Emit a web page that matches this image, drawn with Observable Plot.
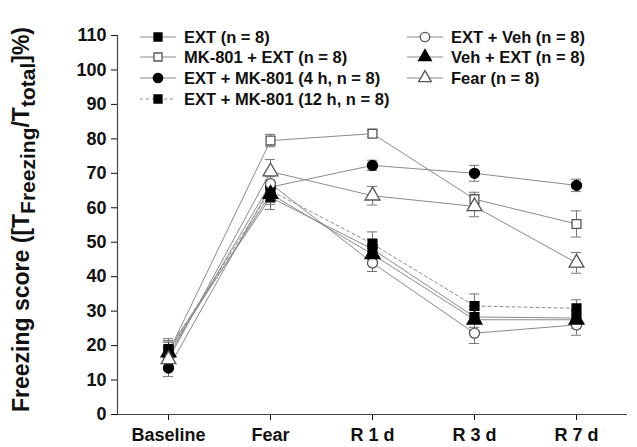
<!DOCTYPE html>
<html>
<head>
<meta charset="utf-8">
<script src="https://cdn.jsdelivr.net/npm/d3@7"></script>
<script src="https://cdn.jsdelivr.net/npm/@observablehq/plot@0.6"></script>
<style>
  html, body { margin: 0; padding: 0; background: #fff; }
</style>
</head>
<body>
<div id="chart"></div>
<script>
// ---- data ----
const categories = ["Baseline", "Fear", "R 1 d", "R 3 d", "R 7 d"];
const yTicks = [0, 10, 20, 30, 40, 50, 60, 70, 80, 90, 100, 110];

const seriesNames = [
  "EXT (n = 8)",
  "MK-801 + EXT (n = 8)",
  "EXT + MK-801 (4 h, n = 8)",
  "EXT + MK-801 (12 h, n = 8)",
  "EXT + Veh (n = 8)",
  "Veh + EXT (n = 8)",
  "Fear (n = 8)"
];

const ext       = [19.0, 63.0, 48.0, 28.3, 28.0];
const mk801Ext  = [18.0, 79.5, 81.5, 62.5, 55.3];
const extMk4h   = [13.5, 66.0, 72.3, 70.0, 66.5];
const extMk12h  = [18.5, 65.0, 49.5, 31.5, 30.8];
const extVeh    = [17.0, 67.0, 44.0, 23.6, 26.0];
const vehExt    = [18.0, 64.0, 46.5, 27.5, 27.5];
const fear      = [16.0, 70.5, 63.5, 60.4, 44.0];

const extSem      = [3.0, 3.5, 3.0, 3.0, 2.5];
const mk801ExtSem = [3.0, 1.8, 1.0, 2.0, 3.8];
const extMk4hSem  = [2.5, 3.0, 1.5, 2.3, 1.8];
const extMk12hSem = [3.0, 3.0, 3.5, 3.5, 2.5];
const extVehSem   = [3.0, 3.0, 2.5, 3.0, 3.0];
const vehExtSem   = [3.0, 3.0, 3.0, 3.0, 2.5];
const fearSem     = [3.0, 3.5, 2.7, 3.0, 3.0];

const seriesValues = [ext, mk801Ext, extMk4h, extMk12h, extVeh, vehExt, fear];
const seriesSems   = [extSem, mk801ExtSem, extMk4hSem, extMk12hSem, extVehSem, vehExtSem, fearSem];

// ---- styles ----
const markerStyle = [
  {symbol: "square",   fill: "#000", stroke: "#000", dashed: false},
  {symbol: "square",   fill: "#fff", stroke: "#555", dashed: false},
  {symbol: "circle",   fill: "#000", stroke: "#000", dashed: false},
  {symbol: "square",   fill: "#000", stroke: "#000", dashed: true},
  {symbol: "circle",   fill: "#fff", stroke: "#555", dashed: false},
  {symbol: "triangle", fill: "#000", stroke: "#000", dashed: false},
  {symbol: "triangle", fill: "#fff", stroke: "#555", dashed: false}
];

const rows = [];
seriesNames.forEach((name, s) => {
  categories.forEach((c, i) => {
    rows.push({series: name, s, i, v: seriesValues[s][i], sem: seriesSems[s][i]});
  });
});

const lineColor = "#8a8a8a";
const capHalf = 0.05;
const marks = [];

marks.push(Plot.ruleX([-0.5], {stroke: "#444", strokeWidth: 1.2}));
marks.push(Plot.ruleY([0], {stroke: "#444", strokeWidth: 1.2}));

// lines
marks.push(Plot.line(rows.filter(d => !markerStyle[d.s].dashed), {
  x: "i", y: "v", z: "series", stroke: lineColor, strokeWidth: 1
}));
marks.push(Plot.line(rows.filter(d => markerStyle[d.s].dashed), {
  x: "i", y: "v", z: "series", stroke: lineColor, strokeWidth: 1, strokeDasharray: "3,3"
}));

// error bars
marks.push(Plot.ruleX(rows, {x: "i", y1: d => d.v - d.sem, y2: d => d.v + d.sem, stroke: "#777", strokeWidth: 1}));
marks.push(Plot.ruleY(rows, {y: d => d.v + d.sem, x1: d => d.i - capHalf, x2: d => d.i + capHalf, stroke: "#777", strokeWidth: 1}));
marks.push(Plot.ruleY(rows, {y: d => d.v - d.sem, x1: d => d.i - capHalf, x2: d => d.i + capHalf, stroke: "#777", strokeWidth: 1}));

// markers
seriesNames.forEach((name, s) => {
  const st = markerStyle[s];
  marks.push(Plot.dot(rows.filter(d => d.s === s), {
    x: "i", y: "v", symbol: st.symbol, fill: st.fill, stroke: st.stroke, strokeWidth: 1.3,
    r: st.symbol === "triangle" ? 5.5 : 5
  }));
});

const chart = Plot.plot({
  width: 637,
  height: 447,
  marginLeft: 117,
  marginRight: 10,
  marginTop: 35,
  marginBottom: 33,
  style: {fontFamily: "'Liberation Sans', Arial, sans-serif", fontWeight: "bold", fontSize: "18px", color: "#111", background: "#fff", overflow: "visible"},
  x: {domain: [-0.5, 4.5], ticks: 5, tickFormat: i => categories[i] ?? "", tickSize: 6, tickPadding: 8, label: null},
  y: {domain: [0, 110], ticks: yTicks.length - 1, tickSize: 6, tickPadding: 5, label: null},
  marks
});

document.getElementById("chart").appendChild(chart);

// ---- y-axis title with subscripts ----
const svg = d3.select(chart);
const title = svg.append("text")
  .attr("transform", "translate(29,412) rotate(-90)")
  .attr("text-anchor", "start")
  .attr("font-size", 23)
  .attr("font-weight", "bold")
  .attr("fill", "#111");
title.append("tspan").text("Freezing score ([T");
title.append("tspan").attr("font-size", 21).attr("dy", 6).text("Freezing");
title.append("tspan").attr("dy", -6).text("/T");
title.append("tspan").attr("font-size", 21).attr("dy", 6).text("total");
title.append("tspan").attr("dy", -6).text("]%)");

// ---- legend ----
const legend = svg.append("g")
  .attr("font-size", 16.5).attr("font-weight", "bold").attr("fill", "#111")
  .attr("text-anchor", "start");
const legendPos = [
  {x: 140, y: 37}, {x: 140, y: 57}, {x: 140, y: 78}, {x: 140, y: 99},
  {x: 407, y: 37}, {x: 407, y: 57}, {x: 407, y: 78}
];
const symMap = {square: d3.symbolSquare, circle: d3.symbolCircle, triangle: d3.symbolTriangle};
seriesNames.forEach((name, s) => {
  const p = legendPos[s];
  const st = markerStyle[s];
  const g = legend.append("g").attr("transform", `translate(${p.x},${p.y})`);
  g.append("line").attr("x1", 0).attr("x2", 36).attr("y1", 0).attr("y2", 0)
    .attr("stroke", lineColor).attr("stroke-width", 1)
    .attr("stroke-dasharray", st.dashed ? "3,3" : null);
  const size = st.symbol === "square" ? 64 : 70;
  g.append("path").attr("d", d3.symbol(symMap[st.symbol], size)())
    .attr("transform", "translate(18,0)")
    .attr("fill", st.fill).attr("stroke", st.stroke).attr("stroke-width", 1.3);
  g.append("text").attr("x", 44).attr("y", 0).attr("dy", "0.35em").text(name);
});
</script>
</body>
</html>
